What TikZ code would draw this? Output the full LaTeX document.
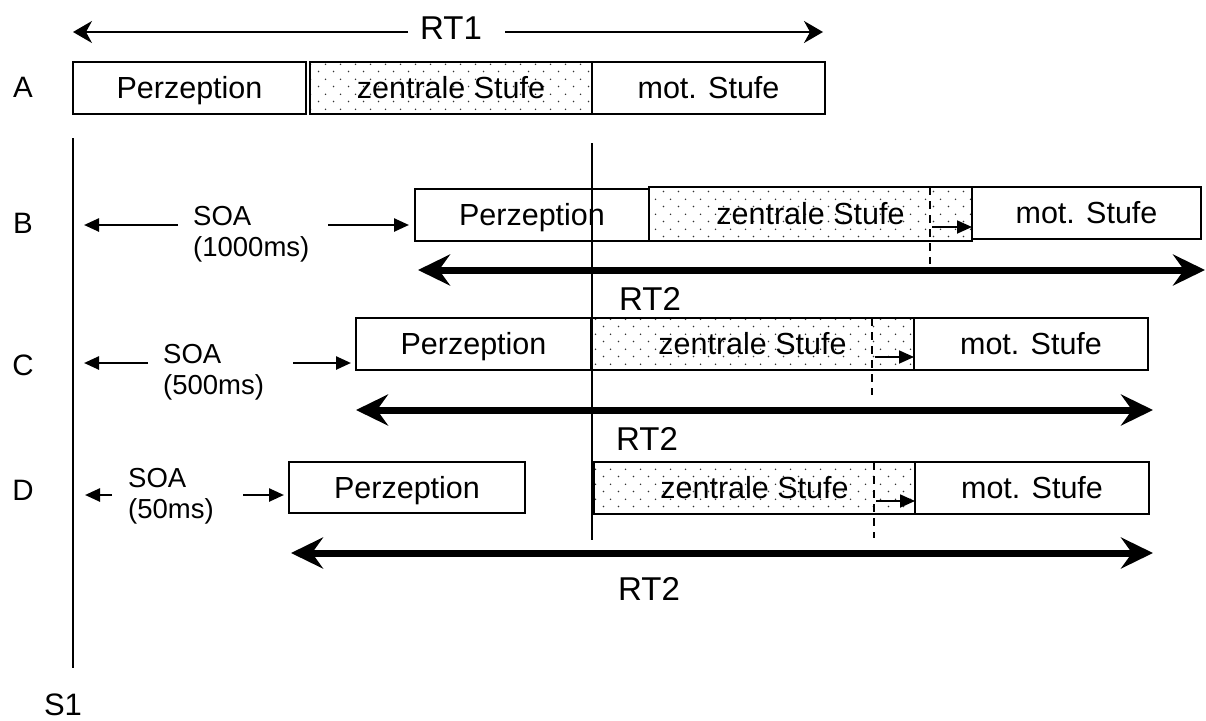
\documentclass[tikz,border=0pt]{standalone}
\usepackage{fontspec}
\setmainfont{Liberation Sans}
\usetikzlibrary{arrows.meta,patterns.meta}
\tikzdeclarepattern{
  name=stipple,
  type=uncolored,
  bounding box={(0pt,0pt) and (15pt,15pt)},
  tile size={(15pt,15pt)},
  code={
    \fill (3.75pt,3.75pt) circle (0.9pt);
    \fill (11.25pt,11.25pt) circle (0.9pt);
  }
}
\begin{document}
\begin{tikzpicture}[x=1pt,y=-1pt,
  box/.style={draw, line width=2pt, inner sep=0pt, outer sep=0pt, anchor=north west,
    font=\fontsize{30.5}{36}\selectfont, text height=21.8pt, text depth=0pt},
  dotbox/.style={box, pattern=stipple, pattern color=black!80},
  rowlab/.style={anchor=base, font=\fontsize{29.5}{34}\selectfont},
  soatxt/.style={anchor=base west, inner sep=0pt, font=\fontsize{27.5}{32}\selectfont},
  rtlab/.style={anchor=base, font=\fontsize{33}{38}\selectfont},
  axis/.style={line width=2pt},
  soa/.style={line width=2.5pt, -{Triangle[length=15pt,width=13pt]}},
  small/.style={line width=1.8pt, -{Triangle[length=15pt,width=13pt]}},
  rtone/.style={line width=1.6pt, -{Stealth[length=19pt,width=22pt,inset=6pt]}},
  rttwo/.style={line width=7pt, {Stealth[length=32pt,width=31pt,inset=11pt]}-{Stealth[length=32pt,width=31pt,inset=11pt]}},
  dline/.style={line width=1.6pt, dash pattern=on 8pt off 6pt}
]
\useasboundingbox (0,0) rectangle (1206,720);

% ---------- Row A ----------
\node[rtlab] (RT1) at (451,39) {RT1};
\coordinate (R1a) at (408,32);
\coordinate (R1l) at (73,32);
\coordinate (R1b) at (505,32);
\coordinate (R1r) at (823,32);
\draw[rtone] (R1a) -- (R1l);
\draw[rtone] (R1b) -- (R1r);

\node[rowlab] (LA) at (23,97) {A};
\node[box, minimum width=233pt, minimum height=52pt] (Ap) at (73,62) {Perzeption};
\node[dotbox, minimum width=282pt, minimum height=52pt] (Az) at (310,62) {zentrale Stufe};
\node[box, minimum width=233pt, minimum height=52pt] (Am) at (592,62) {mot. Stufe};

% ---------- axes ----------
\coordinate (S1top) at (73,138);
\coordinate (S1bot) at (73,668);
\draw[axis] (S1top) -- (S1bot);
\node[rowlab, font=\fontsize{31}{36}\selectfont] (S1) at (63,715) {S1};
\coordinate (V1) at (592,143);
\coordinate (V2) at (592,540);

% ---------- Row B ----------
\node[rowlab] (LB) at (23,233) {B};
\node[box, minimum width=234pt, minimum height=52pt] (Bp) at (415,189) {Perzeption};
\node[dotbox, minimum width=323pt, minimum height=54pt] (Bz) at (649,187) {zentrale Stufe};
\node[box, minimum width=229pt, minimum height=52pt] (Bm) at (972,187) {mot. Stufe};
\node[soatxt] (Bsoa) at (193,225) {SOA};
\node[soatxt] (Bms) at (193,256) {(1000ms)};
\coordinate (Bs0) at (84,225);
\coordinate (Bs1) at (178,225);
\coordinate (Bs2) at (328,225);
\coordinate (Bs3) at (409,225);
\draw[soa] (Bs1) -- (Bs0);
\draw[soa] (Bs2) -- (Bs3);
\coordinate (Bd0) at (930,187);
\coordinate (Bd1) at (930,264);
\draw[dline] (Bd0) -- (Bd1);
\coordinate (Ba0) at (932,227);
\draw[small] (Ba0) -- (Bm.west |- Ba0);
\coordinate (B2l) at (418,270);
\coordinate (B2r) at (1205,270);
\draw[rttwo] (B2l) -- (B2r);
\node[rtlab] (BRT) at (650,310) {RT2};

% ---------- Row C ----------
\node[rowlab] (LC) at (23,375) {C};
\node[box, minimum width=235pt, minimum height=52pt] (Cp) at (356,318) {Perzeption};
\node[dotbox, minimum width=323pt, minimum height=52pt] (Cz) at (591,318) {zentrale Stufe};
\node[box, minimum width=234pt, minimum height=52pt] (Cm) at (914,318) {mot. Stufe};
\node[soatxt] (Csoa) at (163,363) {SOA};
\node[soatxt] (Cms) at (163,394) {(500ms)};
\coordinate (Cs0) at (84,363);
\coordinate (Cs1) at (148,363);
\coordinate (Cs2) at (293,363);
\coordinate (Cs3) at (351,363);
\draw[soa] (Cs1) -- (Cs0);
\draw[soa] (Cs2) -- (Cs3);
\coordinate (Cd0) at (872,318);
\coordinate (Cd1) at (872,395);
\draw[dline] (Cd0) -- (Cd1);
\coordinate (Ca0) at (875,357);
\draw[small] (Ca0) -- (Cm.west |- Ca0);
\coordinate (C2l) at (356,410);
\coordinate (C2r) at (1153,410);
\draw[rttwo] (C2l) -- (C2r);
\node[rtlab] (CRT) at (647,450) {RT2};

% ---------- Row D ----------
\node[rowlab] (LD) at (23,500) {D};
\node[box, minimum width=236pt, minimum height=51pt] (Dp) at (289,462) {Perzeption};
\node[dotbox, minimum width=321pt, minimum height=52pt] (Dz) at (594,462) {zentrale Stufe};
\node[box, minimum width=234pt, minimum height=52pt] (Dm) at (915,462) {mot. Stufe};
\node[soatxt] (Dsoa) at (128,487) {SOA};
\node[soatxt] (Dms) at (128,518) {(50ms)};
\coordinate (Ds0) at (85,495);
\coordinate (Ds1) at (112,495);
\coordinate (Ds2) at (243,495);
\coordinate (Ds3) at (284,495);
\draw[soa] (Ds1) -- (Ds0);
\draw[soa] (Ds2) -- (Ds3);
\coordinate (Dd0) at (874,462);
\coordinate (Dd1) at (874,538);
\draw[dline] (Dd0) -- (Dd1);
\coordinate (Da0) at (876,501);
\draw[small] (Da0) -- (Dm.west |- Da0);
\coordinate (D2l) at (291,553);
\coordinate (D2r) at (1153,553);
\draw[rttwo] (D2l) -- (D2r);
\node[rtlab] (DRT) at (649,600) {RT2};

% central line
\draw[axis] (V1) -- (V2);
\end{tikzpicture}
\end{document}
